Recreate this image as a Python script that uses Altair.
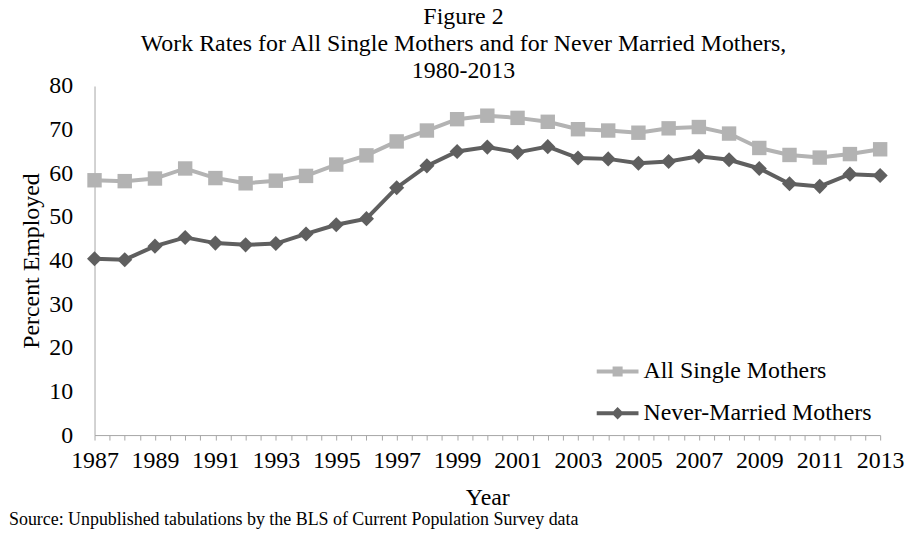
import altair as alt
import pandas as pd

years = list(range(1987, 2014))
all_single = [58.4, 58.2, 58.8, 61.1, 58.9, 57.7, 58.3, 59.4, 62.0, 64.1, 67.3, 69.8, 72.4, 73.2,
              72.7, 71.8, 70.1, 69.8, 69.3, 70.3, 70.6, 69.1, 65.8, 64.2, 63.6, 64.4, 65.5]
never_married = [40.4, 40.2, 43.3, 45.3, 44.0, 43.6, 43.9, 46.1, 48.2, 49.6, 56.7, 61.7, 65.0, 66.0,
                 64.8, 66.1, 63.5, 63.3, 62.3, 62.7, 63.9, 63.1, 61.1, 57.6, 57.0, 59.8, 59.5]
series_names = ["All Single Mothers", "Never-Married Mothers"]
series_colors = ["#b3b3b3", "#5f5f5f"]
series_shapes = ["square", "diamond"]
title_lines = ["Figure 2", "Work Rates for All Single Mothers and for Never Married Mothers,", "1980-2013"]
source_text = "Source: Unpublished tabulations by the BLS of Current Population Survey data"

df = pd.DataFrame({
    "Year": years + years,
    "Value": all_single + never_married,
    "Series": [series_names[0]] * len(years) + [series_names[1]] * len(years),
})

FONT = "Liberation Serif"
AXIS_GRAY = "#a6a6a6"

tick_vals = [1987 + 0.5 * i for i in range(53)]

x_enc = alt.X(
    "Year:Q",
    scale=alt.Scale(domain=[1987, 2013], nice=False, zero=False),
    axis=alt.Axis(
        values=tick_vals,
        labelExpr="datum.value % 2 == 1 ? toString(datum.value) : ''",
        labelFlush=False, labelOverlap=False, tickSize=5, tickColor=AXIS_GRAY,
        domainColor=AXIS_GRAY, grid=False, title="Year", labelPadding=9,
        titlePadding=13, labelFontSize=24, titleFontSize=24,
    ),
)
y_enc = alt.Y(
    "Value:Q",
    scale=alt.Scale(domain=[0, 80], nice=False),
    axis=alt.Axis(
        values=list(range(0, 81, 10)), ticks=False, grid=False, domainColor=AXIS_GRAY,
        labelPadding=22, labelFontSize=24, titleFontSize=24, titlePadding=5,
        title="Percent Employed",
    ),
)

layers = []
for name, col in zip(series_names, series_colors):
    base = alt.Chart(df).transform_filter(alt.datum.Series == name)
    layers.append(base.mark_line(color=col, strokeWidth=4).encode(x=x_enc, y=y_enc))
for name, col, shp in zip(series_names, series_colors, series_shapes):
    base = alt.Chart(df).transform_filter(alt.datum.Series == name)
    size = 210 if shp == "square" else 230
    layers.append(base.mark_point(shape=shp, filled=True, size=size, color=col, opacity=1).encode(x=x_enc, y=y_enc))

path_sq = "M-1,-0.095 L-0.24,-0.095 L-0.24,-0.24 L0.24,-0.24 L0.24,-0.095 L1,-0.095 L1,0.095 L0.24,0.095 L0.24,0.24 L-0.24,0.24 L-0.24,0.095 L-1,0.095 Z"
path_di = "M-1,-0.095 L-0.2,-0.095 L0,-0.3 L0.2,-0.095 L1,-0.095 L1,0.095 L0.2,0.095 L0,0.3 L-0.2,0.095 L-1,0.095 Z"

leg = dict(title=None, orient="none", legendX=505, legendY=266, labelFont=FONT, labelFontSize=24,
           labelColor="black", labelOffset=5, symbolSize=1764, symbolStrokeWidth=0, padding=0,
           rowPadding=9, labelLimit=400)
legend_layer = alt.Chart(df).transform_filter("false").mark_point(
    filled=True, size=1764, opacity=1, strokeWidth=0
).encode(
    color=alt.Color("Series:N", scale=alt.Scale(domain=series_names, range=series_colors), legend=alt.Legend(**leg)),
    shape=alt.Shape("Series:N", scale=alt.Scale(domain=series_names, range=[path_sq, path_di]), legend=alt.Legend(**leg)),
)
layers.append(legend_layer)

source_layer = alt.Chart(pd.DataFrame({"t": [source_text]})).mark_text(
    align="left", baseline="middle", font=FONT, fontSize=18, color="black"
).encode(text="t:N", x=alt.value(-86), y=alt.value(436))
layers.append(source_layer)

chart = alt.layer(*layers).properties(
    width=790, height=351,
    autosize=alt.AutoSizeParams(type="none"),
    padding={"left": 87, "top": 77, "right": 27, "bottom": 93},
    title=alt.TitleParams(
        text=title_lines, font=FONT, fontSize=24, fontWeight="normal", color="black",
        anchor="middle", frame="group", dx=-24, offset=-9, lineHeight=27,
    ),
).configure_axis(
    labelFont=FONT, titleFont=FONT, labelColor="black", titleColor="black", titleFontWeight="normal",
).configure_view(strokeWidth=0)

chart.save("out.html", embed_options={"renderer": "svg", "actions": False})
